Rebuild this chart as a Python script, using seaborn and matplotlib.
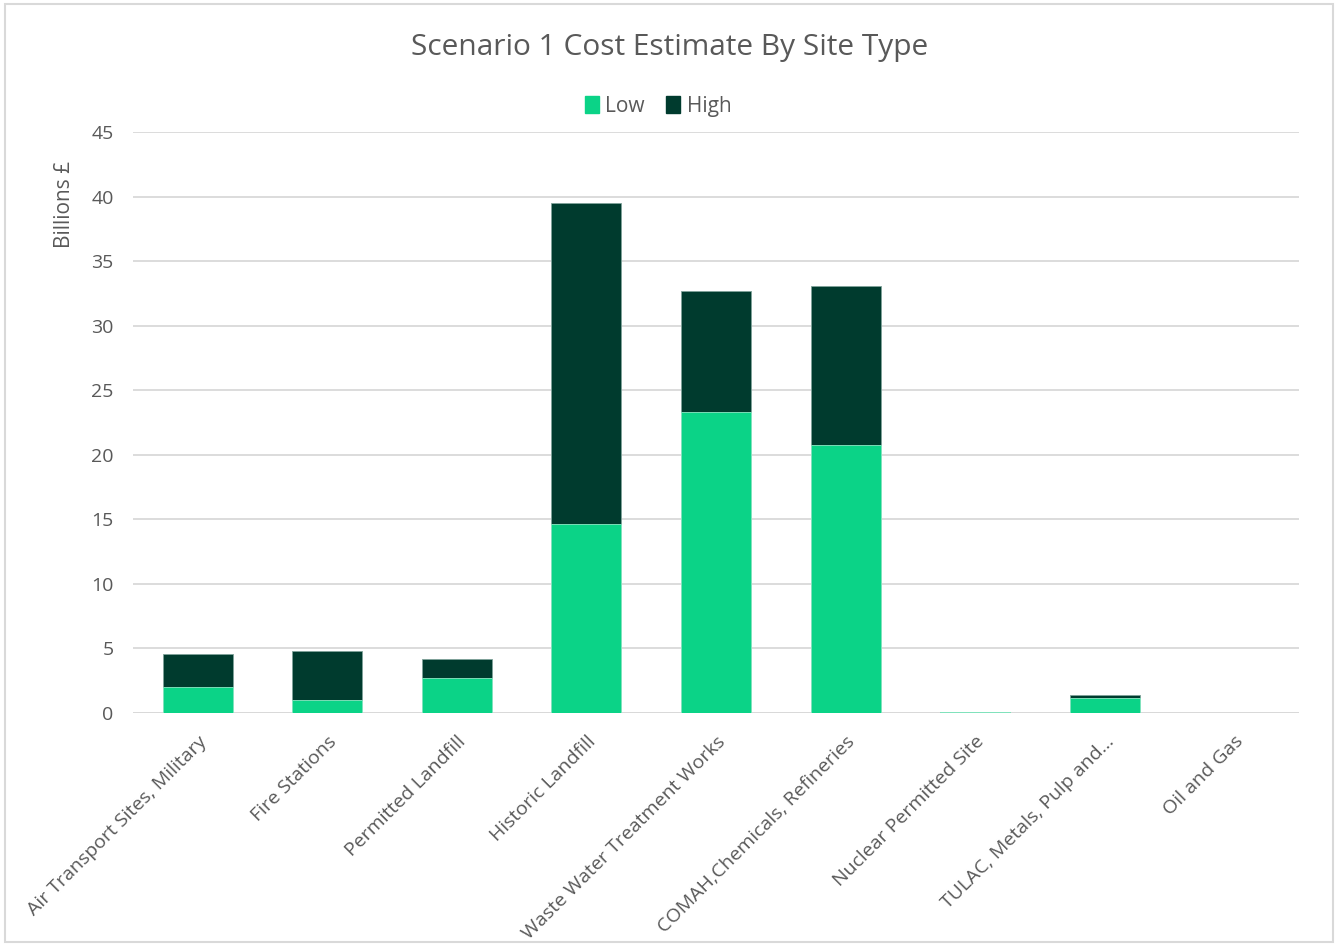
import matplotlib
matplotlib.use("Agg")
import matplotlib.pyplot as plt
import seaborn as sns
import pandas as pd
from matplotlib.patches import Rectangle

# Cost estimates per site type, billions of pounds
site_types = [
    "Air Transport Sites, Military",
    "Fire Stations",
    "Permitted Landfill",
    "Historic Landfill",
    "Waste Water Treatment Works",
    "COMAH,Chemicals, Refineries",
    "Nuclear Permitted Site",
    "TULAC, Metals, Pulp and…",
    "Oil and Gas",
]
low = [2.05, 1.0, 2.7, 14.65, 23.3, 20.75, 0.1, 1.2, 0.0]
high = [2.55, 3.8, 1.45, 24.85, 9.4, 12.35, 0.0, 0.22, 0.0]

LOW_COLOR = "#0BD387"
HIGH_COLOR = "#003B2E"
TEXT_COLOR = "#595959"
GRID_COLOR = "#D9D9D9"

df = pd.DataFrame({"site": site_types, "low": low, "high": high})
df["total"] = df["low"] + df["high"]

sns.set_theme(style="white")
plt.rcParams["font.family"] = ["Open Sans", "DejaVu Sans"]

fig = plt.figure(figsize=(13.38, 9.46), dpi=100)
ax = fig.add_axes([133 / 1338, 233 / 946, 1166 / 1338, 581 / 946])

# Stacked bars: full height in the dark colour, low share drawn over it
sns.barplot(data=df, x="site", y="total", color=HIGH_COLOR, width=0.54,
            saturation=1, ax=ax, edgecolor="#7FA39A", linewidth=0.6)
sns.barplot(data=df, x="site", y="low", color=LOW_COLOR, width=0.54,
            saturation=1, ax=ax, edgecolor="#8EEBC6", linewidth=0.6)

ax.set_ylim(0, 45)
ax.set_xlim(-0.5, len(site_types) - 0.5)
ax.set_yticks(range(0, 46, 5))
ax.yaxis.grid(True, color=GRID_COLOR, linewidth=1.3)
ax.set_axisbelow(True)
for s in ax.spines.values():
    s.set_visible(False)
ax.axhline(0, color=GRID_COLOR, linewidth=1.3, zorder=0.5)

ax.tick_params(axis="both", length=0, colors=TEXT_COLOR, labelsize=14)
ax.tick_params(axis="y", pad=14)
ax.tick_params(axis="x", pad=14)
ax.set_xlabel("")
ax.set_ylabel("Billions £", fontsize=15, color=TEXT_COLOR)
ax.yaxis.set_label_coords(-0.05, 0.875)
plt.setp(ax.get_xticklabels(), rotation=45, ha="right", rotation_mode="anchor",
         color=TEXT_COLOR, fontsize=14)

fig.text(670 / 1338, 1 - 47 / 946, "Scenario 1 Cost Estimate By Site Type",
         ha="center", va="center", fontsize=21.5, color=TEXT_COLOR)

handles = [Rectangle((0, 0), 1, 1, color=LOW_COLOR),
           Rectangle((0, 0), 1, 1, color=HIGH_COLOR)]
fig.legend(handles, ["Low", "High"], loc="center", bbox_to_anchor=(658 / 1338, 1 - 106 / 946),
           ncol=2, frameon=False, fontsize=15, labelcolor=TEXT_COLOR,
           handlelength=0.7, handleheight=0.9, handletextpad=0.3, columnspacing=1.0)

# Light frame around the whole chart
fig.patches.append(Rectangle((0.004, 0.004), 0.992, 0.992, transform=fig.transFigure,
                             fill=False, edgecolor="#D9D9D9", linewidth=1.5))

fig.savefig("out.png", dpi=100)
